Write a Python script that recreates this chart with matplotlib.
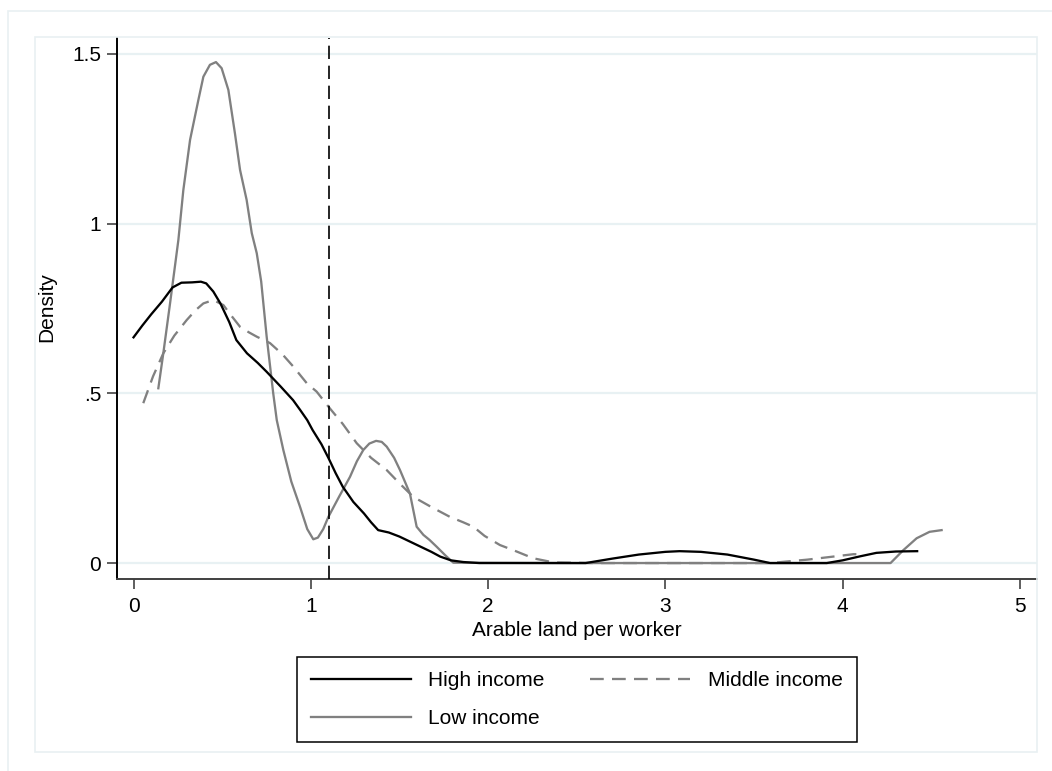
import matplotlib
matplotlib.use("Agg")
import matplotlib.pyplot as plt
from matplotlib.patches import Rectangle
from matplotlib.lines import Line2D

plt.rcParams['font.family'] = ['Liberation Sans', 'DejaVu Sans']

# kernel density estimates of arable land per worker, by income group
high_x = [0.0, 0.05, 0.10, 0.16, 0.22, 0.27, 0.33, 0.38, 0.41, 0.45, 0.49, 0.54,
          0.58, 0.64, 0.70, 0.75, 0.83, 0.90, 0.94, 0.98, 1.01, 1.06, 1.10, 1.14,
          1.18, 1.24, 1.30, 1.34, 1.38, 1.44, 1.50, 1.56, 1.62, 1.68, 1.73, 1.79,
          1.86, 1.95, 2.2, 2.55, 2.7, 2.85, 3.0, 3.08, 3.2, 3.35, 3.5, 3.59, 3.75,
          3.91, 4.0, 4.1, 4.19, 4.3, 4.42]
high_y = [0.665, 0.70, 0.733, 0.77, 0.812, 0.826, 0.827, 0.829, 0.824, 0.80, 0.765,
          0.71, 0.657, 0.618, 0.59, 0.564, 0.52, 0.48, 0.451, 0.421, 0.392, 0.35,
          0.309, 0.265, 0.225, 0.18, 0.146, 0.12, 0.097, 0.09, 0.078, 0.063, 0.048,
          0.033, 0.019, 0.008, 0.003, 0.0, 0.0, 0.0, 0.013, 0.025, 0.033, 0.035,
          0.033, 0.025, 0.01, 0.0, 0.0, 0.0, 0.008, 0.02, 0.030, 0.034, 0.035]

mid_x = [0.055, 0.11, 0.168, 0.23, 0.30, 0.35, 0.394, 0.45, 0.507, 0.55, 0.601,
         0.65, 0.695, 0.77, 0.84, 0.901, 0.977, 1.033, 1.099, 1.18, 1.259, 1.34,
         1.428, 1.50, 1.578, 1.68, 1.785, 1.86, 1.917, 1.98, 2.067, 2.142, 2.255,
         2.368, 2.6, 3.0, 3.3, 3.59, 3.8, 4.06, 4.1]
mid_y = [0.471, 0.55, 0.618, 0.67, 0.716, 0.745, 0.765, 0.775, 0.760, 0.73, 0.696,
         0.68, 0.667, 0.648, 0.615, 0.579, 0.53, 0.505, 0.461, 0.41, 0.353, 0.31,
         0.274, 0.235, 0.195, 0.165, 0.136, 0.12, 0.107, 0.08, 0.053, 0.038, 0.014,
         0.002, 0.0, 0.0, 0.0, 0.0, 0.01, 0.026, 0.026]

low_x = [0.14, 0.168, 0.206, 0.235, 0.253, 0.281, 0.319, 0.366, 0.394, 0.431,
         0.465, 0.497, 0.535, 0.572, 0.601, 0.638, 0.667, 0.695, 0.72, 0.751,
         0.788, 0.808, 0.845, 0.89, 0.939, 0.98, 1.014, 1.04, 1.07, 1.099, 1.16,
         1.221, 1.26, 1.296, 1.33, 1.368, 1.40, 1.428, 1.47, 1.503, 1.559, 1.597,
         1.635, 1.67, 1.71, 1.76, 1.804, 2.5, 3.5, 4.27, 4.342, 4.417, 4.49, 4.558]
low_y = [0.515, 0.618, 0.765, 0.88, 0.952, 1.099, 1.247, 1.365, 1.433, 1.468,
         1.476, 1.458, 1.394, 1.266, 1.158, 1.07, 0.972, 0.913, 0.83, 0.667,
         0.50, 0.421, 0.333, 0.24, 0.166, 0.10, 0.07, 0.075, 0.10, 0.136, 0.196,
         0.254, 0.30, 0.333, 0.352, 0.36, 0.357, 0.343, 0.31, 0.274, 0.205, 0.107,
         0.083, 0.068, 0.048, 0.022, 0.001, 0.0, 0.0, 0.0, 0.038, 0.073, 0.092, 0.097]

cutoff = 1.1
x_ticks = [0, 1, 2, 3, 4, 5]
y_ticks = [0, 0.5, 1, 1.5]
y_ticklabels = ['0', '.5', '1', '1.5']

W, H = 1052, 771
fig = plt.figure(figsize=(W / 100, H / 100), dpi=100)
fig.patch.set_facecolor('white')

# graph / plot region outlines
border = '#e9f0f2'
fig.add_artist(Rectangle((8 / W, 1 - 780 / H), 1.2, (780 - 11) / H,
                         transform=fig.transFigure, fill=False,
                         edgecolor=border, lw=1.2))
fig.add_artist(Rectangle((35 / W, 1 - 752 / H), (1037 - 35) / W, (752 - 37) / H,
                         transform=fig.transFigure, fill=False,
                         edgecolor=border, lw=1.2))

ax = fig.add_axes([116.5 / W, 1 - 579 / H, (1037 - 116.5) / W, (579 - 38) / H])
ax.set_xlim(-0.096, 5.096)
ax.set_ylim(-0.047, 1.547)

for yv in y_ticks:
    ax.axhline(yv, color='#e8f1f3', lw=1.6, zorder=0)

gray = '#808080'
lw = 1.65
dash = (0, (6, 3.6))
ax.plot(high_x, high_y, color='black', lw=lw, label='High income', zorder=3)
ax.plot(mid_x, mid_y, color=gray, lw=lw, ls=dash, label='Middle income', zorder=2)
ax.plot(low_x, low_y, color=gray, lw=lw, label='Low income', zorder=2)

ax.axvline(cutoff, color='black', lw=1.2, ls=(0, (8, 4)), zorder=4)

for side in ['top', 'right']:
    ax.spines[side].set_visible(False)
ax.spines['left'].set_color('black')
ax.spines['bottom'].set_color('#404040')
ax.spines['left'].set_linewidth(1.4)
ax.spines['bottom'].set_linewidth(1.4)

ax.set_xticks(x_ticks)
ax.set_yticks(y_ticks)
ax.set_yticklabels(y_ticklabels)
ax.tick_params(axis='both', direction='out', length=7.2, width=1.1,
               labelsize=15, color='#333333')
ax.tick_params(axis='x', pad=5.5)
ax.tick_params(axis='y', pad=3.8)

fig.text(47 / W, 1 - 307 / H, 'Density', rotation=90, ha='center', va='center',
         fontsize=15)
fig.text(577 / W, 1 - 636 / H, 'Arable land per worker', ha='center',
         va='baseline', fontsize=15)

handles = [Line2D([], [], color='black', lw=lw),
           Line2D([], [], color=gray, lw=lw),
           Line2D([], [], color=gray, lw=lw, ls=dash)]
labels = ['High income', 'Low income', 'Middle income']
leg = fig.legend(handles, labels, ncol=2, loc='upper left',
                 bbox_to_anchor=(296.7 / W, 1 - 656.7 / H, 560 / W, 0.0),
                 mode='expand', fontsize=15, frameon=True, fancybox=False,
                 edgecolor='black', framealpha=1, handlelength=4.8,
                 handletextpad=0.83, columnspacing=2.1, borderpad=0.68,
                 labelspacing=0.92, borderaxespad=0)
leg.get_frame().set_linewidth(1.1)

fig.savefig('out.png', dpi=100, facecolor='white')
